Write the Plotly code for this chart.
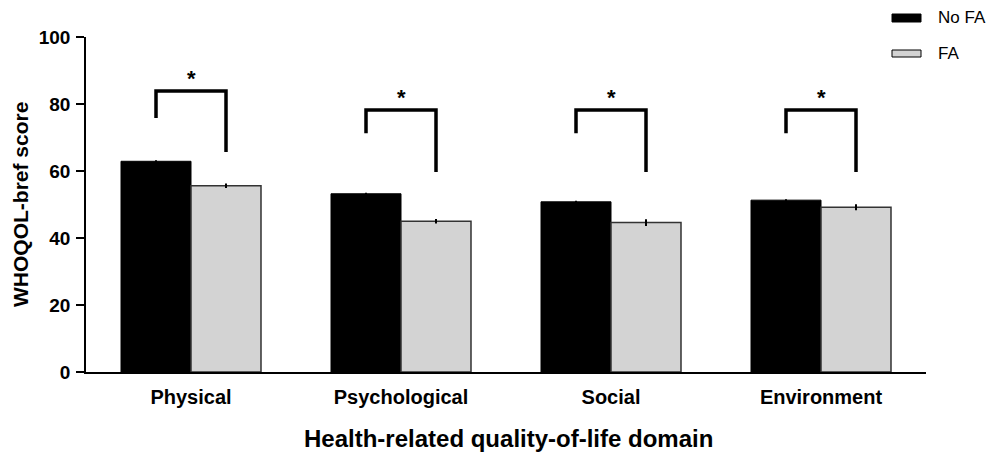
import plotly.graph_objects as go

categories = ["Physical", "Psychological", "Social", "Environment"]
no_fa = [62.9, 53.2, 50.8, 51.3]
no_fa_err = [0.3, 0.3, 0.3, 0.3]
fa = [55.6, 45.0, 44.6, 49.2]
fa_err = [0.7, 0.7, 1.0, 0.9]

# significance brackets (data units)
br_top = [83.9, 78.2, 78.2, 78.2]
br_left_end = [75.8, 71.3, 71.3, 71.3]
br_right_end = [65.7, 59.7, 59.7, 59.7]
sig_label = ["*", "*", "*", "*"]

y_ticks = [0, 20, 40, 60, 80, 100]

idx = list(range(len(categories)))
bw = 1 / 3
x_nofa = [i - bw / 2 for i in idx]
x_fa = [i + bw / 2 for i in idx]

FONT = "Liberation Sans, Arial, sans-serif"

# page has an 8px body margin; figure coordinates = page coordinates - 8
OFF = 8
L, T = 86 - OFF, 37 - OFF
PW, PH = 840, 335
W, H = 994 - 2 * OFF, 470 - 2 * OFF


def px(xp):
    return (xp - OFF - L) / PW


def py(yp):
    return (T + PH - (yp - OFF)) / PH


fig = go.Figure()
fig.add_trace(go.Bar(
    x=x_nofa, y=no_fa, width=bw, name="No FA",
    marker=dict(color="black", line=dict(color="black", width=1)),
    error_y=dict(type="data", array=no_fa_err, color="black", thickness=2, width=0),
    showlegend=False,
))
fig.add_trace(go.Bar(
    x=x_fa, y=fa, width=bw, name="FA",
    marker=dict(color="#d3d3d3", line=dict(color="#333333", width=1.5)),
    error_y=dict(type="data", array=fa_err, color="black", thickness=2, width=0),
    showlegend=False,
))

shapes = []
annotations = []
for i in idx:
    x1, x2 = x_nofa[i], x_fa[i]
    path = f"M {x1},{br_left_end[i]} L {x1},{br_top[i]} L {x2},{br_top[i]} L {x2},{br_right_end[i]}"
    shapes.append(dict(type="path", path=path, xref="x", yref="y",
                       line=dict(color="black", width=3.5)))
    annotations.append(dict(x=i, y=br_top[i] + 3.6, xref="x", yref="y",
                            text=f"<b>{sig_label[i]}</b>",
                            showarrow=False, yanchor="middle",
                            font=dict(family=FONT, size=22, color="black")))

# legend drawn manually
shapes.append(dict(type="rect", xref="paper", yref="paper",
                   x0=px(892), x1=px(921), y0=py(22), y1=py(14),
                   fillcolor="black", line=dict(color="black", width=1)))
shapes.append(dict(type="rect", xref="paper", yref="paper",
                   x0=px(892), x1=px(921), y0=py(57), y1=py(50),
                   fillcolor="#d3d3d3", line=dict(color="black", width=1)))
annotations.append(dict(x=px(936), y=py(18), xref="paper", yref="paper", text="No FA",
                        showarrow=False, xanchor="left", yanchor="middle",
                        font=dict(family=FONT, size=17, color="black")))
annotations.append(dict(x=px(936), y=py(53), xref="paper", yref="paper", text="FA",
                        showarrow=False, xanchor="left", yanchor="middle",
                        font=dict(family=FONT, size=17, color="black")))
annotations.append(dict(x=px(508), y=py(438), xref="paper", yref="paper",
                        text="<b>Health-related quality-of-life domain</b>",
                        showarrow=False, xanchor="center", yanchor="middle",
                        font=dict(family=FONT, size=24, color="black")))
annotations.append(dict(x=px(20), y=py(205), xref="paper", yref="paper",
                        text="<b>WHOQOL-bref score</b>", textangle=-90,
                        showarrow=False, xanchor="center", yanchor="middle",
                        font=dict(family=FONT, size=21, color="black")))

fig.update_layout(
    width=W, height=H,
    margin=dict(l=L, r=W - L - PW, t=T, b=H - T - PH),
    plot_bgcolor="white", paper_bgcolor="white",
    shapes=shapes, annotations=annotations,
    font=dict(family=FONT, color="black"),
    xaxis=dict(
        range=[-0.5, 3.5], tickmode="array", tickvals=idx,
        ticktext=[f"<b>{c}</b>" for c in categories],
        tickfont=dict(family=FONT, size=20, color="black"),
        showgrid=False, zeroline=False, showline=True, linecolor="black", linewidth=1.5,
        ticks="", ticklabelstandoff=6,
    ),
    yaxis=dict(
        range=[0, 100], tickvals=y_ticks,
        ticktext=[f"<b>{v}</b>" for v in y_ticks],
        tickfont=dict(family=FONT, size=19, color="black"),
        showgrid=False, zeroline=False, showline=True, linecolor="black", linewidth=1.5,
        ticks="outside", ticklen=8, tickwidth=1.5, tickcolor="black",
        ticklabelstandoff=2,
    ),
)

fig.write_html("out.html")
